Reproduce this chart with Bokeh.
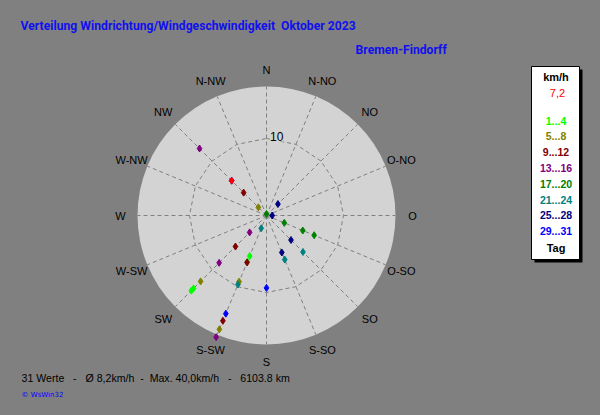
import math
from bokeh.plotting import figure
from bokeh.models import Range1d, Label, ColumnDataSource
from bokeh.embed import file_html
from bokeh.resources import INLINE

# ---------------- data ----------------
title = "Verteilung Windrichtung/Windgeschwindigkeit\u00a0\u00a0Oktober 2023"
station = "Bremen-Findorff"
dir_labels = ["N", "N-NO", "NO", "O-NO", "O", "O-SO", "SO", "S-SO",
              "S", "S-SW", "SW", "W-SW", "W", "W-NW", "NW", "N-NW"]
ring_value = 10
outer_value = 16.75

days = list(range(1, 32))
# wind direction (compass degrees) per day
wind_dir = [225, 225, 202.5, 202.5,          # 1-4
            315, 225, 202.5, 202.5,          # 5-8
            315, 225, 202.5, 202.5,          # 9-12
            315, 225, 225, 202.5,            # 13-16
            0, 112.5, 112.5, 112.5,          # 17-20
            135, 157.5, 202.5, 202.5,        # 21-24
            45, 90, 135, 157.5,              # 25-28
            180, 202.5, 315]                 # 29-31
# wind speed (km/h) per day
wind_speed = [13.4, 13.8, 5.7, 6.5,
              1.5, 12.1, 9.3, 16.0,
              4.2, 5.7, 6.6, 14.8,
              12.3, 3.1, 8.7, 17.1,
              0.2, 2.5, 5.1, 6.7,
              6.7, 6.2, 1.8, 9.7,
              2.1, 0.74, 4.5, 5.2,
              9.4, 13.8, 6.4]
group_labels = ["1...4", "5...8", "9...12", "13...16", "17...20",
                "21...24", "25...28", "29...31"]
group_colors = ["#00ff00", "#808000", "#800000", "#800080", "#008000",
                "#008080", "#000080", "#0000ff"]
mean_label = "7,2"
mean_dir = 315
mean_speed = 6.4
footer = "31 Werte\u00a0\u00a0\u00a0-\u00a0\u00a0\u00a0\u00d8 8,2km/h\u00a0\u00a0-\u00a0\u00a0Max. 40,0km/h\u00a0\u00a0\u00a0-\u00a0\u00a0\u00a06103.8 km"
credit = "\u00a9 WsWin32"

# ---------------- geometry helpers ----------------
S = 7.7            # pixels per km/h
CX, CY = 266, 215  # centre of the rose in window pixels


def px(x):
    return (x - CX) / S


def py(y):
    return (CY - y) / S


def polar(d, r):
    t = math.radians(d)
    return r * math.sin(t), r * math.cos(t)


BG = "#808080"
W, H = 584, 399
p = figure(width=W, height=H, output_backend="svg", toolbar_location=None,
           x_range=Range1d(px(0), px(W)), y_range=Range1d(py(H), py(0)),
           min_border=0, background_fill_color=BG, border_fill_color=BG,
           outline_line_color=None)
p.axis.visible = False
p.xgrid.visible = False
p.ygrid.visible = False

# rose background
p.circle(x=[0], y=[0], radius=outer_value, fill_color="#d3d3d3", line_color=None)

dirs = [i * 22.5 for i in range(16)]
# spokes
xs, ys = [], []
for d in dirs:
    ex, ey = polar(d, outer_value)
    xs.append([0, ex])
    ys.append([0, ey])
p.multi_line(xs, ys, line_color="#808080", line_dash="4 3", line_width=1)

# ring polygon at 10 km/h
rx = [polar(d, ring_value)[0] for d in dirs] + [polar(0, ring_value)[0]]
ry = [polar(d, ring_value)[1] for d in dirs] + [polar(0, ring_value)[1]]
p.line(rx, ry, line_color="#808080", line_dash="4 3", line_width=1)

# centre square
p.scatter(x=[0], y=[0], marker="square", size=5, fill_color="#909090", line_color=None)

FONT = "Liberation Sans"
# ring label
p.add_layout(Label(x=polar(0, ring_value)[0] + 0.45, y=polar(0, ring_value)[1] + 0.2,
                   text=str(ring_value), text_align="left", text_baseline="middle",
                   text_font=FONT, text_font_size="12px",
                   text_color="black", background_fill_color="#d3d3d3"))

# compass labels
lab_r = 146 / S
for d, t in zip(dirs, dir_labels):
    lx, ly = polar(d, lab_r)
    p.add_layout(Label(x=lx, y=ly, text=t, text_align="center", text_baseline="middle",
                       text_font=FONT, text_font_size="11px", text_color="black"))

# day points
pts_x, pts_y, pts_c = [], [], []
for day, d, r in zip(days, wind_dir, wind_speed):
    x, y = polar(d, r)
    pts_x.append(x)
    pts_y.append(y)
    pts_c.append(group_colors[min((day - 1) // 4, 7)])
src = ColumnDataSource(dict(x=pts_x, y=pts_y, c=pts_c))
p.scatter("x", "y", source=src, marker="diamond", size=7, fill_color="c", line_color="c")

# mean point
mx, my = polar(mean_dir, mean_speed)
p.scatter(x=[mx], y=[my], marker="diamond", size=7, fill_color="#ff0000", line_color="#ff0000")

# title texts
p.add_layout(Label(x=px(20), y=py(25), text=title, text_align="left", text_baseline="middle",
                   text_font="Roboto", text_font_style="bold",
                   text_font_size="12.2px", text_color="#1010ee"))
p.add_layout(Label(x=px(355), y=py(49), text=station, text_align="left", text_baseline="middle",
                   text_font="Roboto", text_font_style="bold",
                   text_font_size="12.2px", text_color="#1010ee"))

# legend box with shadow
p.quad(left=[px(534)], right=[px(582)], top=[py(69)], bottom=[py(262)],
       fill_color="black", line_color=None)
p.quad(left=[px(531)], right=[px(579)], top=[py(66)], bottom=[py(259)],
       fill_color="white", line_color="black", line_width=1)
LX = px(555.5)
p.add_layout(Label(x=LX, y=py(76), text="km/h", text_align="center", text_baseline="middle",
                   text_font=FONT, text_font_style="bold",
                   text_font_size="11px", text_color="black"))
p.add_layout(Label(x=px(557), y=py(92), text=mean_label, text_align="center", text_baseline="middle",
                   text_font=FONT, text_font_size="11px", text_color="#ff0000"))
for i, (t, c) in enumerate(zip(group_labels, group_colors)):
    p.add_layout(Label(x=LX, y=py(120 + i * 15.8), text=t, text_align="center",
                       text_baseline="middle", text_font=FONT,
                       text_font_style="bold", text_font_size="10.5px", text_color=c))
p.add_layout(Label(x=LX, y=py(247), text="Tag", text_align="center", text_baseline="middle",
                   text_font=FONT, text_font_style="bold",
                   text_font_size="11px", text_color="black"))

# footer
p.add_layout(Label(x=px(21), y=py(377), text=footer, text_align="left", text_baseline="middle",
                   text_font=FONT, text_font_size="10.6px", text_color="black"))
p.add_layout(Label(x=px(21), y=py(394), text=credit, text_align="left", text_baseline="middle",
                   text_font="DejaVu Sans", text_font_size="7px", text_color="#0000ff"))

html = file_html(p, INLINE)
html = html.replace("<head>", "<head><style>body{background:#808080;}</style>", 1)
open("out.html", "w").write(html)
